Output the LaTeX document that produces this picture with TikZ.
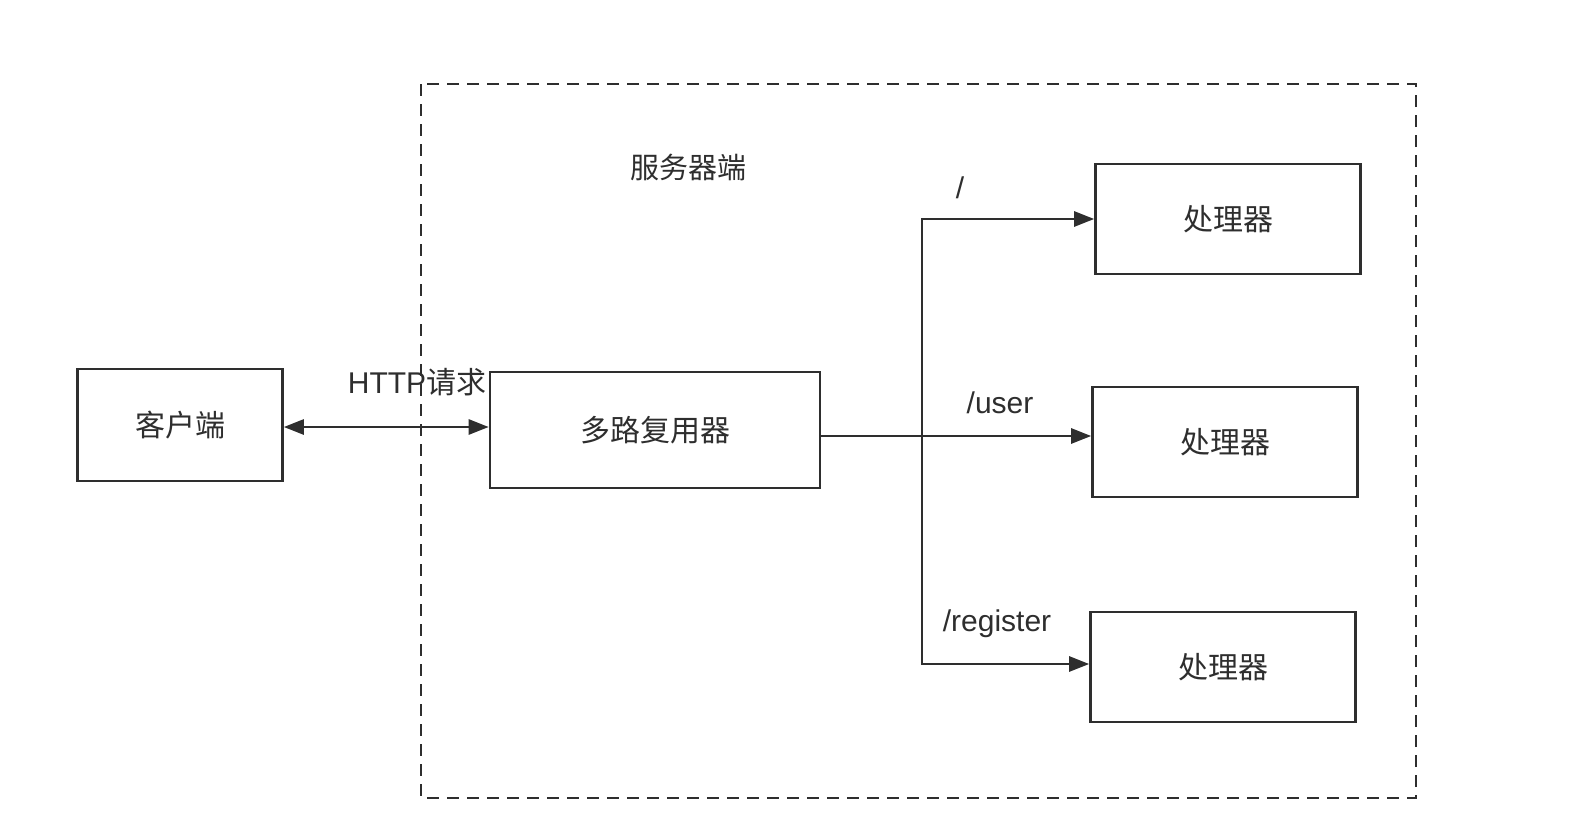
\documentclass[tikz,border=0pt]{standalone}
\usepackage{fontspec}
\setmainfont{Liberation Sans}
\newfontfamily\cjk{Noto Sans CJK SC}
\usetikzlibrary{arrows.meta}
\definecolor{ink}{HTML}{2E2E2E}
\tikzset{
  box/.style={draw=ink, line width=1.3pt, rectangle, inner sep=0pt, font=\cjk\fontsize{15}{18}\selectfont, text=ink},
  lbl/.style={font=\fontsize{15}{18}\selectfont, text=ink, inner sep=1pt},
  conn/.style={draw=ink, line width=1.3pt, -{Triangle[length=10pt,width=7.5pt]}},
  frame/.style={draw=ink, line width=1.3pt, dash pattern=on 6pt off 4pt}
}
\begin{document}
\begin{tikzpicture}[x=0.5pt,y=-0.5pt]
\useasboundingbox (0,0) rectangle (1584,830);
% server frame
\draw[frame] (421,84) rectangle (1416,798);
\node[lbl, font=\cjk\fontsize{14.5}{17}\selectfont] (srv) at (688,167) {服务器端};
% boxes
\node[box, minimum width=102.5pt, minimum height=56pt] (client) at (180,425) {客户端};
\node[box, minimum width=165pt, minimum height=58pt] (mux) at (655,430) {多路复用器};
\node[box, minimum width=132.5pt, minimum height=55pt] (h1) at (1228,219) {处理器};
\node[box, minimum width=132.5pt, minimum height=55pt] (h2) at (1225,442) {处理器};
\node[box, minimum width=132.5pt, minimum height=55pt] (h3) at (1223,667) {处理器};
% client <-> mux
\draw[conn, {Triangle[length=10pt,width=7.5pt]}-{Triangle[length=10pt,width=7.5pt]}] (client.east |- 0,427) -- (mux.west |- 0,427);
\node[lbl] (http) at (417,382) {HTTP\cjk 请求};
% routing
\coordinate (jt) at (922,219);
\coordinate (jb) at (922,664);
\draw[conn] (mux.east |- 0,436) -- (h2.west |- 0,436);
\draw[conn] (jb) -- (jt) -- (h1.west |- jt);
\draw[conn] (jt) -- (jb) -- (h3.west |- jb);
\node[lbl] (r1) at (960,188) {/};
\node[lbl] (r2) at (1000,403) {/user};
\node[lbl] (r3) at (997,624) {/register};
\end{tikzpicture}
\end{document}
